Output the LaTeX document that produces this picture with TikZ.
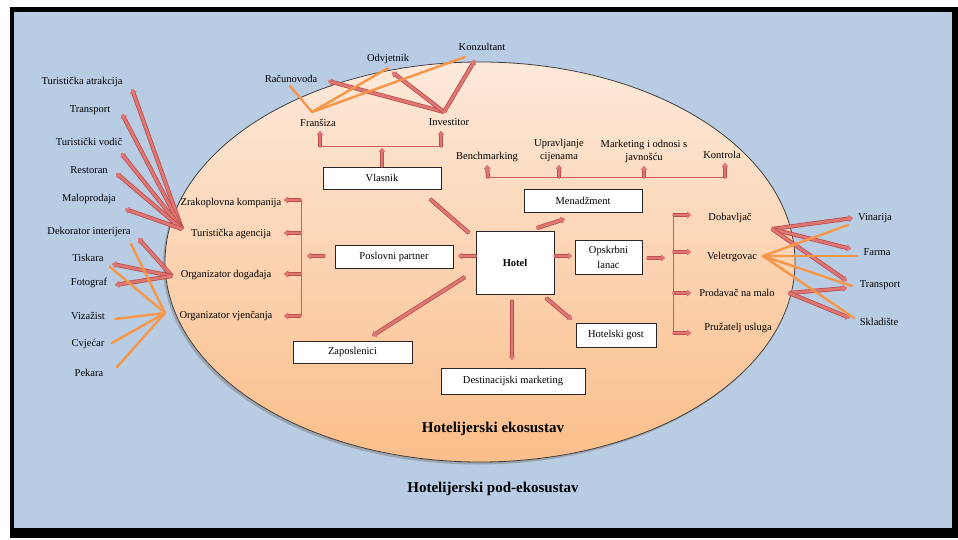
\documentclass[tikz,border=0pt]{standalone}
\usepackage{fontspec}
\setmainfont{Liberation Serif}
\usetikzlibrary{arrows.meta}
\definecolor{bgblue}{RGB}{184,204,228}
\definecolor{redD}{RGB}{190,78,75}
\definecolor{redL}{RGB}{222,118,115}
\definecolor{thinred}{RGB}{205,95,92}
\definecolor{orng}{RGB}{247,150,70}
\definecolor{peachT}{RGB}{253,233,218}
\definecolor{peachB}{RGB}{250,190,138}
\begin{document}
\begin{tikzpicture}[x=1pt,y=-1pt,
  lbl/.style={font=\fontsize{10.5}{13}\selectfont, inner sep=0pt, align=center},
  box/.style={draw=black!85, fill=white, line width=0.8pt, inner sep=0pt,
              font=\fontsize{10.5}{15}\selectfont, align=center},
  title/.style={font=\fontsize{15}{17}\selectfont\bfseries, inner sep=0pt},
  tube/.style={draw=redL, line width=2.6pt, line cap=round,
               preaction={draw=redD, line width=4.2pt}},
  tubeA/.style={tube, -{Triangle[length=4pt,width=6.5pt]}},
  thinr/.style={draw=thinred, line width=1pt},
  orl/.style={draw=orng, line width=2.4pt, line cap=round}]
\useasboundingbox (0,0) rectangle (958,540);
% frame
\fill[white] (0,0) rectangle (958,540);
\fill[black] (10,7) rectangle (958,538);
\fill[bgblue] (14,12) rectangle (952,528);
% ellipse
\fill[black!45, opacity=0.6] (478,264.5) ellipse [x radius=315, y radius=200];
\shade[top color=peachT, bottom color=peachB] (480,262) ellipse [x radius=315, y radius=200];
\draw[black!75, line width=0.8pt] (480,262) ellipse [x radius=315, y radius=200];

% ---------- boxes ----------
\node[box, minimum width=118pt, minimum height=22pt] (vlasnik) at (382,178) {Vlasnik};
\node[box, minimum width=118pt, minimum height=23pt] (menadz) at (583,200.5) {Menadžment};
\node[box, minimum width=118pt, minimum height=23pt] (poslovni) at (394,256.5) {Poslovni partner};
\node[box, minimum width=78pt, minimum height=63pt, font=\fontsize{10.5}{13}\selectfont\bfseries] (hotel) at (515,262.5) {Hotel};
\node[box, minimum width=67pt, minimum height=34pt] (opskrbni) at (608.5,257) {Opskrbni\\lanac};
\node[box, minimum width=119pt, minimum height=22pt] (zaposl) at (352.5,352) {Zaposlenici};
\node[box, minimum width=144pt, minimum height=26pt] (destin) at (513,381) {Destinacijski marketing};
\node[box, minimum width=80pt, minimum height=24pt] (gost) at (616,335) {Hotelski gost};

% ---------- labels ----------
\node[lbl] (konz) at (482,47) {Konzultant};
\node[lbl] (odv) at (388,59) {Odvjetnik};
\node[lbl] (racun) at (291,79) {Računovođa};
\node[lbl] (fran) at (318,123) {Franšiza};
\node[lbl] (inv) at (449,122) {Investitor};

\node[lbl] (bench) at (487,157) {Benchmarking};
\node[lbl] (uprav) at (559,150.5) {Upravljanje\\cijenama};
\node[lbl] (market) at (644,151) {Marketing i odnosi s\\javnošću};
\node[lbl] (kontrola) at (722,155) {Kontrola};

\node[lbl] (zrak) at (231,203) {Zrakoplovna kompanija};
\node[lbl] (agenc) at (231,234) {Turistička agencija};
\node[lbl] (orgdog) at (226,275) {Organizator događaja};
\node[lbl] (orgvj) at (226,316) {Organizator vjenčanja};

\node[lbl] (atrak) at (82,82) {Turistička atrakcija};
\node[lbl] (transL) at (90,110) {Transport};
\node[lbl] (vodic) at (89,142) {Turistički vodič};
\node[lbl] (restoran) at (89,170) {Restoran};
\node[lbl] (malop) at (89,199) {Maloprodaja};
\node[lbl] (dekor) at (89,232) {Dekorator interijera};
\node[lbl] (tiskara) at (88,258) {Tiskara};
\node[lbl] (fotograf) at (89,283) {Fotograf};
\node[lbl] (vizazist) at (88,316) {Vizažist};
\node[lbl] (cvjecar) at (88,344) {Cvjećar};
\node[lbl] (pekara) at (89,373) {Pekara};

\node[lbl] (dobav) at (730,218) {Dobavljač};
\node[lbl] (veletr) at (732,257) {Veletrgovac};
\node[lbl] (prodav) at (737,293) {Prodavač na malo};
\node[lbl] (pruz) at (738,328) {Pružatelj usluga};

\node[lbl] (vinar) at (875,218) {Vinarija};
\node[lbl] (farma) at (877,252) {Farma};
\node[lbl] (transR) at (880,285) {Transport};
\node[lbl] (sklad) at (879,322) {Skladište};

\node[title] (eko) at (493,429) {Hotelijerski ekosustav};
\node[title] (podeko) at (493,489) {Hotelijerski pod-ekosustav};

% ---------- junction coordinates ----------
\coordinate (Fj) at (312,112);
\coordinate (Ij) at (444,112);
\coordinate (TAj) at (182,229);
\coordinate (ODj) at (172,276);
\coordinate (OVj) at (165,313);
\coordinate (Dj) at (772,229);
\coordinate (Vj) at (763,256);
\coordinate (Pj) at (789,293);

% ---------- top: owners ----------
\draw[tubeA] (Ij) -- (328,81);
\draw[tubeA] (Ij) -- (392,72);
\draw[tubeA] (Ij) -- (475,60);
\draw[orl] (Fj) -- (290,86);
\draw[orl] (Fj) -- (388,68);
\draw[orl] (Fj) -- (465,57);

% Vlasnik bracket
\draw[thinr] (320,147) -- (441,147);
\draw[tubeA] (vlasnik.north) -- (382,148);
\draw[tubeA] (320,147) -- (320,131);
\draw[tubeA] (441,147) -- (441,131);

% Management bracket
\draw[thinr] (488,178) -- (725,178);
\draw[tubeA] (488,178) -- (bench.south |- 0,165);
\draw[tubeA] (559,178) -- (559,165);
\draw[tubeA] (644,178) -- (644,166);
\draw[tubeA] (725,178) -- (725,163);

% Left bracket (business partner)
\draw[thinr] (301,200) -- (301,316);
\draw[tubeA] (301,200) -- (284,200);
\draw[tubeA] (301,233) -- (284,233);
\draw[tubeA] (301,274) -- (284,274);
\draw[tubeA] (301,316) -- (284,316);
\draw[tubeA] (325,256) -- (307,256);

% Right bracket (supply chain)
\draw[thinr] (673,215) -- (673,333);
\draw[tubeA] (673,215) -- (691,215);
\draw[tubeA] (673,252) -- (691,252);
\draw[tubeA] (673,293) -- (691,293);
\draw[tubeA] (673,333) -- (691,333);
\draw[tubeA] (647,258) -- (665,258);

% Hotel connectors
\draw[tube] (469,233) -- (430,199);
\draw[tubeA] (537,228) -- (565,219);
\draw[tubeA] (476,256) -- (458,256);
\draw[tubeA] (554,256) -- (572,256);
\draw[tubeA] (465,277) -- (372,336);
\draw[tubeA] (512,300) -- (512,360);
\draw[tubeA] (546,298) -- (572,320);

% Left externals
\draw[tubeA] (TAj) -- (132,89);
\draw[tubeA] (TAj) -- (122,114);
\draw[tubeA] (TAj) -- (121,153);
\draw[tubeA] (TAj) -- (116,173);
\draw[tubeA] (TAj) -- (125,209);
\draw[tubeA] (ODj) -- (138,238);
\draw[tubeA] (ODj) -- (112,264);
\draw[tubeA] (ODj) -- (115,285);
\draw[orl] (OVj) -- (131,244);
\draw[orl] (OVj) -- (110,267);
\draw[orl] (OVj) -- (115,319);
\draw[orl] (OVj) -- (112,343);
\draw[orl] (OVj) -- (117,367);

% Right externals
\draw[tubeA] (Dj) -- (853,218);
\draw[tubeA] (Dj) -- (851,249);
\draw[tubeA] (Dj) -- (847,281);
\draw[tubeA] (Pj) -- (847,288);
\draw[tubeA] (Pj) -- (850,318);
\draw[orl] (Vj) -- (848,225);
\draw[orl] (Vj) -- (857,256);
\draw[orl] (Vj) -- (852,286);
\draw[orl] (Vj) -- (854,318);
\end{tikzpicture}
\end{document}
